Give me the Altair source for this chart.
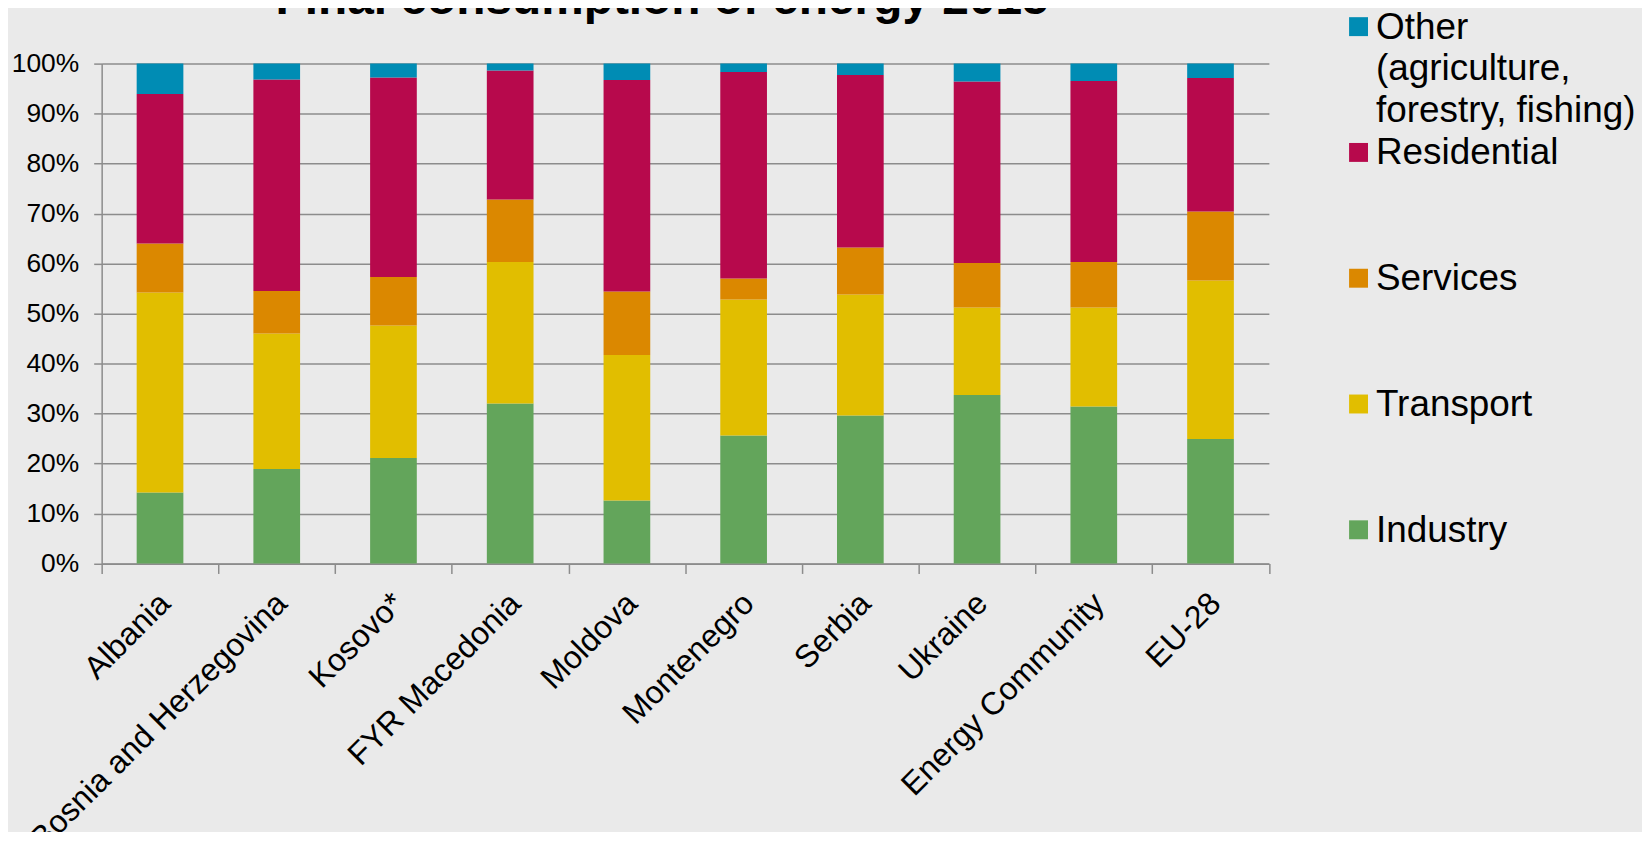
import altair as alt
import pandas as pd

title_text = "Final consumption of energy 2015"

countries = ["Albania", "Bosnia and Herzegovina", "Kosovo*", "FYR Macedonia", "Moldova",
             "Montenegro", "Serbia", "Ukraine", "Energy Community", "EU-28"]

industry = [14.2, 18.9, 21.1, 32.0, 12.6, 25.6, 29.6, 33.7, 31.4, 24.9]
transport = [40.0, 27.1, 26.5, 28.3, 29.1, 27.2, 24.2, 17.5, 19.8, 31.7]
services = [9.8, 8.5, 9.7, 12.5, 12.7, 4.2, 9.4, 8.9, 9.1, 13.8]
residential = [29.9, 42.3, 39.9, 25.8, 42.3, 41.3, 34.5, 36.3, 36.2, 26.7]
other = [6.1, 3.2, 2.8, 1.4, 3.3, 1.7, 2.3, 3.6, 3.5, 2.9]

sectors = ["Other", "Residential", "Services", "Transport", "Industry"]
legend_labels = ["Other\n(agriculture,\nforestry, fishing)", "Residential", "Services", "Transport", "Industry"]
colors = ["#008CB4", "#B7094C", "#DB8800", "#E1BE00", "#63A55B"]

series = {"Industry": industry, "Transport": transport, "Services": services,
          "Residential": residential, "Other": other}
stack_order = {"Industry": 0, "Transport": 1, "Services": 2, "Residential": 3, "Other": 4}

rows = []
for s, vals in series.items():
    for c, v in zip(countries, vals):
        rows.append({"country": c, "sector": s, "value": v, "order": stack_order[s]})
df = pd.DataFrame(rows)
legend_df = pd.DataFrame({"sector": sectors, "label": legend_labels})
title_df = pd.DataFrame({"t": [title_text]})

FONT = "Liberation Sans"
GRID = "#8C8C8C"

color_scale = alt.Scale(domain=sectors, range=colors)

bars = alt.Chart(df).mark_bar(width=alt.RelativeBandSize(0.4)).encode(
    x=alt.X("country:N", sort=countries, title=None,
            scale=alt.Scale(paddingInner=0, paddingOuter=0),
            axis=alt.Axis(tickBand="extent", tickSize=10, tickColor=GRID, tickWidth=1.5,
                          domainColor=GRID, domainWidth=1.5, labelAngle=-45,
                          labelAlign="right", labelBaseline="top", labelPadding=14,
                          labelOffset=-6,
                          labelFontSize=32, labelFont=FONT, labelColor="black",
                          labelOverlap=False, labelLimit=0, grid=False)),
    y=alt.Y("value:Q", stack="normalize", title=None,
            scale=alt.Scale(domain=[0, 1], nice=False),
            axis=alt.Axis(format=".0%", values=[i / 10 for i in range(11)],
                          tickSize=8, tickColor=GRID, tickWidth=1.5,
                          domainColor=GRID, domainWidth=1.5,
                          grid=True, gridColor=GRID, gridWidth=1.5,
                          labelPadding=15, labelFontSize=26.5, labelFont=FONT,
                          labelColor="black", labelOverlap=False)),
    color=alt.Color("sector:N", scale=color_scale, legend=None),
    order=alt.Order("order:Q", sort="ascending"),
)

leg_y = alt.Y("sector:N", sort=sectors, axis=None,
              scale=alt.Scale(type="point", range=[-37.1, 467.9], padding=0))

legend_sq = alt.Chart(legend_df).mark_square(size=361, opacity=1, filled=True).encode(
    x=alt.value(1261.5),
    y=leg_y,
    color=alt.Color("sector:N", scale=color_scale, legend=None),
)

legend_txt = alt.Chart(legend_df).mark_text(
    align="left", baseline="alphabetic", dy=12, fontSize=37, font=FONT,
    color="black", lineBreak="\n", lineHeight=42
).encode(
    x=alt.value(1279),
    y=leg_y,
    text="label:N",
)

title_mark = alt.Chart(title_df).mark_text(
    align="center", baseline="alphabetic", fontSize=48, fontWeight="bold",
    font=FONT, color="black"
).encode(
    x=alt.value(562.5),
    y=alt.value(-49.6),
    text="t:N",
)

chart = alt.layer(bars, legend_sq, legend_txt, title_mark).resolve_scale(y="independent").properties(
    width=1171.5,
    height=501.7,
    padding={"left": 94, "top": 54.3, "right": 374.5, "bottom": 268},
    autosize=alt.AutoSizeParams(type="none"),
    background="#EAEAEA",
).configure_view(stroke=None)

chart.save("out.html", embed_options={"renderer": "svg", "actions": False})
